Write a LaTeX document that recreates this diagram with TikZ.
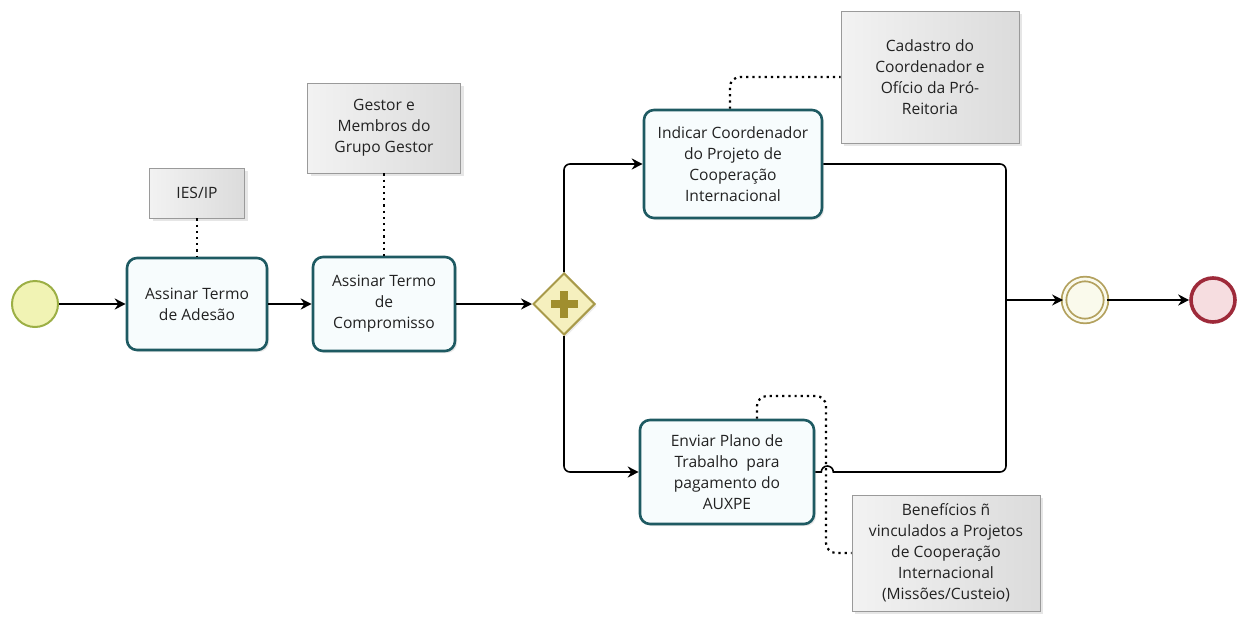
\documentclass[tikz,border=0pt]{standalone}
\usepackage{fontspec}
\setmainfont{Open Sans}
\usetikzlibrary{positioning,arrows.meta,shapes.geometric,shadows}
\definecolor{taskline}{HTML}{1E5A62}
\definecolor{taskfill}{HTML}{F7FCFD}
\definecolor{textcol}{HTML}{222222}
\definecolor{startline}{HTML}{9CAF45}
\definecolor{startfill}{HTML}{F1F3B4}
\definecolor{gwline}{HTML}{A89A4A}
\definecolor{gwfill}{HTML}{F5F0BE}
\definecolor{gwplus}{HTML}{A08E2E}
\definecolor{ieline}{HTML}{B3A15E}
\definecolor{iefill}{HTML}{FAFAEC}
\definecolor{endline}{HTML}{9E2A3A}
\definecolor{endfill}{HTML}{F6DDE0}
\definecolor{noteline}{HTML}{9A9A9A}
\newcommand\flowfont{\fontsize{7.8}{10.5}\selectfont}

\begin{document}
\begin{tikzpicture}[x=.5pt,y=-.5pt,
  task/.style={draw=taskline,line width=1.3pt,fill=taskfill,text=textcol,rounded corners=5pt,align=center,font=\flowfont,inner sep=1pt,drop shadow={opacity=.18,shadow xshift=1pt,shadow yshift=-1pt}},
  note/.style={draw=noteline,line width=.4pt,left color=gray!10,right color=gray!28,text=textcol,align=center,font=\flowfont,inner sep=1pt,drop shadow={opacity=.2,shadow xshift=1.5pt,shadow yshift=-1.5pt}},
  flow/.style={line width=.8pt,rounded corners=3pt},
  arr/.style={-{Stealth[length=5.5pt,width=5.5pt]}},
  assoc/.style={line width=1.1pt,dotted,rounded corners=5pt}]
\useasboundingbox (0,0) rectangle (1242,621);
\node[circle,draw=startline,line width=1pt,fill=startfill,minimum size=23pt,inner sep=0pt] (start) at (35,304){};
\node[task,minimum width=70pt,minimum height=46pt] (t1) at (197,304){Assinar Termo\\de Adesão};
\node[note,minimum width=47.5pt,minimum height=25pt] (a1) at (197,193){IES/IP};
\node[task,minimum width=71pt,minimum height=47pt] (t2) at (384,304){Assinar Termo\\de\\Compromisso};
\node[note,minimum width=76.5pt,minimum height=45pt] (a2) at (384,128){Gestor e\\Membros do\\Grupo Gestor};
\node[diamond,aspect=1,draw=gwline,line width=1pt,fill=gwfill,minimum width=31pt,minimum height=31pt,inner sep=0pt,drop shadow={opacity=.15,shadow xshift=1pt,shadow yshift=-1pt}] (gw) at (564,304){};
\fill[gwplus] ([xshift=-6.75pt,yshift=-2pt]gw.center) rectangle ([xshift=6.75pt,yshift=2pt]gw.center);
\fill[gwplus] ([xshift=-2pt,yshift=-6.75pt]gw.center) rectangle ([xshift=2pt,yshift=6.75pt]gw.center);
\node[task,minimum width=89pt,minimum height=54pt] (t3) at (733,164){Indicar Coordenador\\do Projeto de\\Cooperação\\Internacional};
\node[note,minimum width=89pt,minimum height=66pt] (a3) at (930,77){Cadastro do\\Coordenador e\\Ofício da Pró-\\Reitoria};
\node[task,minimum width=87pt,minimum height=52pt] (t4) at (727,472){Enviar Plano de\\Trabalho\ \ para\\pagamento do\\AUXPE};
\node[note,minimum width=94pt,minimum height=58pt] (a4) at (946,553){Benefícios ñ\\vinculados a Projetos\\de Cooperação\\Internacional\\(Missões/Custeio)};
\node[circle,draw=ieline,line width=.9pt,double=iefill,double distance=1.4pt,fill=iefill,minimum size=21pt,inner sep=0pt] (ie) at (1085,300){};
\node[circle,draw=endline,line width=1.8pt,fill=endfill,minimum size=22pt,inner sep=0pt] (end) at (1213,300){};
\coordinate (mrg) at (1006,300);
\draw[flow,arr] (start)--(t1);\draw[flow,arr] (t1)--(t2);\draw[flow,arr] (t2)--(gw);
\draw[flow,arr] (gw.north) |- (t3.west);\draw[flow,arr] (gw.south) |- (t4.west);
\draw[flow] (t3.east) -| (mrg);
\draw[flow,sharp corners] (t4.east) -- ++(6,0) arc[start angle=180,end angle=0,radius=3pt] -- ++(6,0) [rounded corners=3pt] -| (mrg);
\draw[flow,arr] (mrg)--(ie);\draw[flow,arr] (ie)--(end);
\draw[assoc] (a1.south)--(t1.north);\draw[assoc] (a2.south)--(t2.north);
\draw[assoc] ([xshift=-1.5pt]t3.north) |- (a3.west);
\draw[assoc] ([xshift=15pt]t4.north) |- (826,396) -- (826,553) -- (a4.west);
\end{tikzpicture}
\end{document}
